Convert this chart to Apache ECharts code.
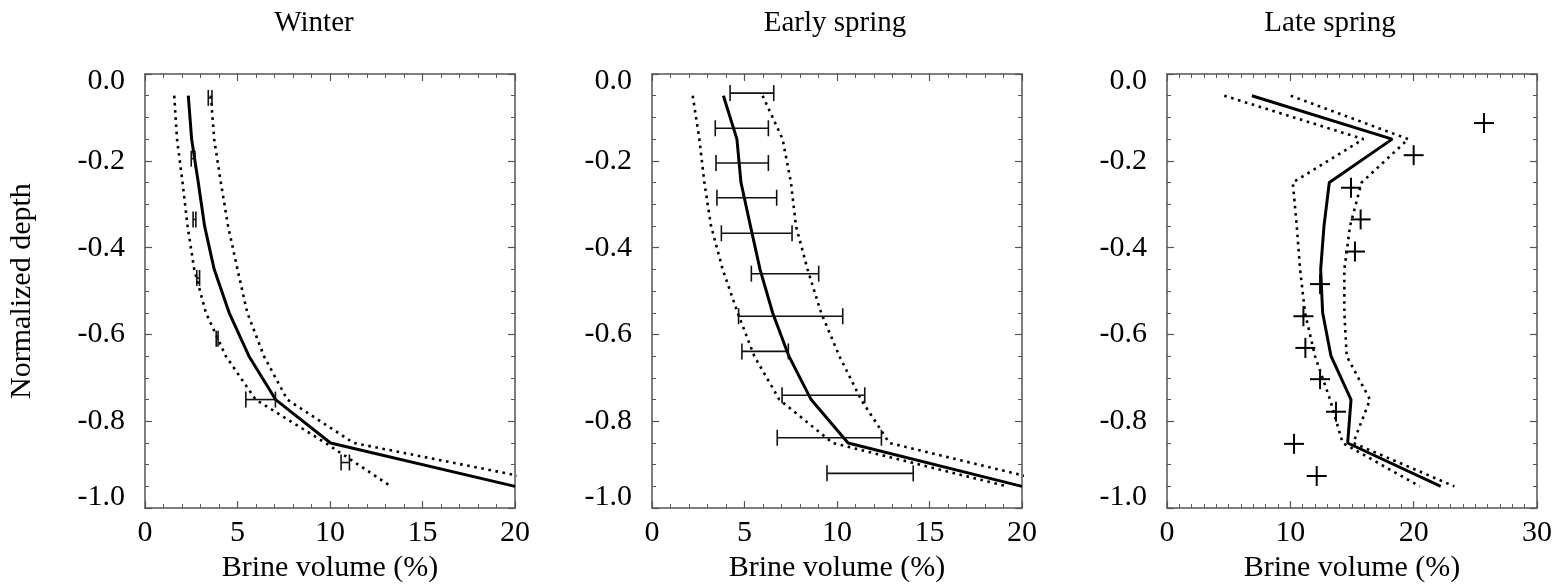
<!DOCTYPE html>
<html>
<head>
<meta charset="utf-8">
<script src="https://cdn.jsdelivr.net/npm/echarts@6/dist/echarts.min.js"></script>
<style>
html,body{margin:0;padding:0;background:#fff;}
#chart{width:1560px;height:588px;}
</style>
</head>
<body>
<div id="chart"></div>
<script>
// ---------- DATA ----------
const panelTitles = ['Winter', 'Early spring', 'Late spring'];
const xAxisName = 'Brine volume (%)';
const yAxisName = 'Normalized depth';
const xMaxes = [20, 20, 30];
const xIntervals = [5, 5, 10];
const yTicks = [0.0, -0.2, -0.4, -0.6, -0.8, -1.0];

const depthLevels = [-0.05, -0.15, -0.25, -0.35, -0.45, -0.55, -0.65, -0.75, -0.85, -0.95];

const winterMean = [2.34, 2.52, 2.88, 3.22, 3.74, 4.55, 5.62, 7.06, 10.03, 20.0];
const winterLow  = [1.58, 1.73, 2.03, 2.30, 2.66, 3.29, 4.37, 5.98, 9.76, 13.3];
const winterHigh = [3.56, 3.74, 4.10, 4.49, 5.00, 5.53, 6.43, 7.69, 11.28, 23.1];
const winterErrDepth = [-0.055, -0.195, -0.335, -0.47, -0.61, -0.75, -0.895];
const winterErrLo = [3.42, 2.50, 2.60, 2.80, 3.85, 5.45, 10.60];
const winterErrHi = [3.62, 2.70, 2.75, 2.95, 3.95, 7.05, 11.05];

const earlyMean = [3.86, 4.59, 4.81, 5.32, 5.84, 6.52, 7.40, 8.60, 10.60, 20.0];
const earlyLow  = [2.20, 2.56, 2.83, 3.19, 3.82, 4.63, 5.53, 6.88, 9.77, 19.2];
const earlyHigh = [5.98, 7.06, 7.51, 7.78, 8.41, 9.14, 10.13, 11.30, 12.83, 22.5];
const earlyErrDepth = [-0.044, -0.125, -0.205, -0.285, -0.367, -0.46, -0.558, -0.639, -0.74, -0.838, -0.92];
const earlyErrLo = [4.22, 3.42, 3.46, 3.51, 3.75, 5.37, 4.68, 4.86, 7.03, 6.77, 9.46];
const earlyErrHi = [6.58, 6.29, 6.29, 6.74, 7.57, 9.01, 10.31, 7.37, 11.50, 12.40, 14.12];

const lateMean = [6.88, 18.26, 13.16, 12.73, 12.46, 12.62, 13.30, 14.92, 14.65, 22.2];
const lateLow  = [4.64, 15.92, 10.20, 10.52, 10.79, 11.19, 12.00, 13.22, 14.24, 20.5];
const lateHigh = [10.03, 19.56, 15.78, 14.84, 14.38, 14.38, 14.57, 16.46, 15.10, 23.3];
const lateObsDepth = [-0.113, -0.187, -0.262, -0.335, -0.409, -0.484, -0.558, -0.631, -0.703, -0.778, -0.852, -0.926];
const lateObs = [25.7, 20.0, 14.92, 15.7, 15.24, 12.41, 11.06, 11.22, 12.41, 13.7, 10.3, 12.14];

// ---------- BUILD ----------
const FONT = 'Liberation Serif';
const frameColor = '#555';
const pair = (xs, ys) => xs.map((x, i) => [x, ys[i]]);

const grids = [
  { left: 145, top: 74, width: 370, height: 436 },
  { left: 652, top: 74, width: 370, height: 436 },
  { left: 1167, top: 74, width: 370, height: 436 }
];

const xAxes = [], yAxes = [], series = [];

function yLabelFmt(v) {
  const s = v.toFixed(1);
  if (Math.abs(v + 1) < 1e-9) return '{lo|' + s + '}';
  if (Math.abs(v) < 1e-9) return '{hi|' + s + '}';
  return s;
}
const labelFont = { fontFamily: FONT, fontSize: 30, color: '#000' };

grids.forEach((g, i) => {
  const tickCommon = { inside: true, length: 7, lineStyle: { color: frameColor, width: 1.2 } };
  const minorCommon = { show: true, length: 4, lineStyle: { color: frameColor, width: 1 } };
  // bottom
  xAxes.push({
    type: 'value', gridIndex: i, position: 'bottom', min: 0, max: xMaxes[i], interval: xIntervals[i],
    axisLine: { show: true, onZero: false, lineStyle: { color: frameColor, width: 1.5 } },
    axisTick: tickCommon,
    minorTick: Object.assign({ splitNumber: xIntervals[i] }, minorCommon),
    splitLine: { show: false },
    axisLabel: Object.assign({ margin: 10 }, labelFont),
    name: xAxisName, nameLocation: 'middle', nameGap: 40,
    nameTextStyle: { fontFamily: FONT, fontSize: 30, color: '#000' }
  });
  // top (mirror)
  xAxes.push({
    type: 'value', gridIndex: i, position: 'top', min: 0, max: xMaxes[i], interval: xIntervals[i],
    axisLine: { show: true, onZero: false, lineStyle: { color: frameColor, width: 1.5 } },
    axisTick: tickCommon,
    minorTick: Object.assign({ splitNumber: xIntervals[i] }, minorCommon),
    splitLine: { show: false },
    axisLabel: { show: false }
  });
  // left
  const yl = {
    type: 'value', gridIndex: i, position: 'left', min: -1, max: 0, interval: 0.2,
    axisLine: { show: true, onZero: false, lineStyle: { color: frameColor, width: 1.5 } },
    axisTick: tickCommon,
    minorTick: Object.assign({ splitNumber: 4 }, minorCommon),
    splitLine: { show: false },
    axisLabel: Object.assign({
      margin: 20, formatter: yLabelFmt,
      rich: {
        lo: Object.assign({ padding: [0, 0, 22, 0] }, labelFont),
        hi: Object.assign({ padding: [15, 0, 0, 0] }, labelFont)
      }
    }, labelFont)
  };
  if (i === 0) {
    yl.name = yAxisName; yl.nameLocation = 'middle'; yl.nameGap = 108;
    yl.nameTextStyle = { fontFamily: FONT, fontSize: 30, color: '#000' };
  }
  yAxes.push(yl);
  // right (mirror)
  yAxes.push({
    type: 'value', gridIndex: i, position: 'right', min: -1, max: 0, interval: 0.2,
    axisLine: { show: true, onZero: false, lineStyle: { color: frameColor, width: 1.5 } },
    axisTick: tickCommon,
    minorTick: Object.assign({ splitNumber: 4 }, minorCommon),
    splitLine: { show: false },
    axisLabel: { show: false }
  });
});

function lineSeries(i, xs, dotted) {
  return {
    type: 'line', xAxisIndex: 2 * i, yAxisIndex: 2 * i,
    data: pair(xs, depthLevels), symbol: 'none', clip: true, silent: true,
    lineStyle: dotted ? { color: '#000', width: 2.6, type: [2.6, 4.6] } : { color: '#000', width: 3 },
    z: dotted ? 2 : 3
  };
}

function errSeries(i, depth, lo, hi) {
  return {
    type: 'custom', xAxisIndex: 2 * i, yAxisIndex: 2 * i, silent: true, z: 4,
    data: depth.map((d, k) => [lo[k], hi[k], d]),
    encode: { x: [0, 1], y: 2 },
    renderItem: function (params, api) {
      const a = api.coord([api.value(0), api.value(2)]);
      const b = api.coord([api.value(1), api.value(2)]);
      const h = 8;
      const st = { stroke: '#111', lineWidth: 1.6 };
      return {
        type: 'group', children: [
          { type: 'line', shape: { x1: a[0], y1: a[1], x2: b[0], y2: b[1] }, style: st },
          { type: 'line', shape: { x1: a[0], y1: a[1] - h, x2: a[0], y2: a[1] + h }, style: st },
          { type: 'line', shape: { x1: b[0], y1: b[1] - h, x2: b[0], y2: b[1] + h }, style: st }
        ]
      };
    }
  };
}

function crossSeries(i, xs, ds) {
  return {
    type: 'custom', xAxisIndex: 2 * i, yAxisIndex: 2 * i, silent: true, z: 5,
    data: pair(xs, ds),
    encode: { x: 0, y: 1 },
    renderItem: function (params, api) {
      const p = api.coord([api.value(0), api.value(1)]);
      const s = 10;
      const st = { stroke: '#000', lineWidth: 2 };
      return {
        type: 'group', children: [
          { type: 'line', shape: { x1: p[0] - s, y1: p[1], x2: p[0] + s, y2: p[1] }, style: st },
          { type: 'line', shape: { x1: p[0], y1: p[1] - s, x2: p[0], y2: p[1] + s }, style: st }
        ]
      };
    }
  };
}

series.push(lineSeries(0, winterLow, true), lineSeries(0, winterHigh, true), lineSeries(0, winterMean, false));
series.push(errSeries(0, winterErrDepth, winterErrLo, winterErrHi));
series.push(lineSeries(1, earlyLow, true), lineSeries(1, earlyHigh, true), lineSeries(1, earlyMean, false));
series.push(errSeries(1, earlyErrDepth, earlyErrLo, earlyErrHi));
series.push(lineSeries(2, lateLow, true), lineSeries(2, lateHigh, true), lineSeries(2, lateMean, false));
series.push(crossSeries(2, lateObs, lateObsDepth));

const titleX = [314, 835, 1330];
const graphic = panelTitles.map((t, i) => ({
  type: 'text', x: titleX[i], y: 23,
  style: { text: t, fontFamily: FONT, fontSize: 29, fill: '#000', align: 'center', verticalAlign: 'middle' }
}));

const chart = echarts.init(document.getElementById('chart'), null, { renderer: 'canvas' });
chart.setOption({
  animation: false,
  backgroundColor: '#fff',
  grid: grids,
  xAxis: xAxes,
  yAxis: yAxes,
  series: series,
  graphic: graphic
});
</script>
</body>
</html>
